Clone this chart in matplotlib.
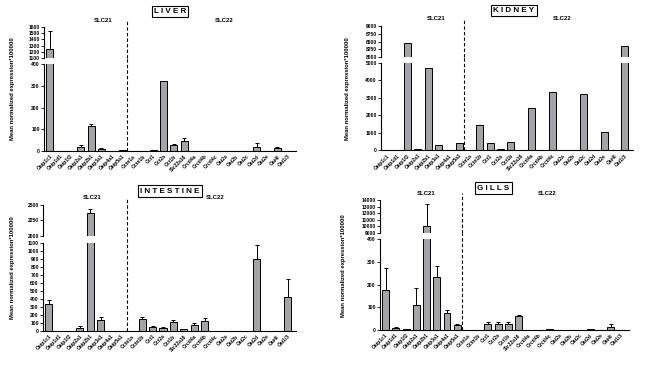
import numpy as np
import matplotlib
matplotlib.use("Agg")
import matplotlib.pyplot as plt

plt.rcParams['font.family'] = ['Liberation Sans', 'DejaVu Sans']
plt.rcParams['font.weight'] = 'bold'

# gene names (SLC21 then SLC22)
slc21 = ["Oatp1c1", "Oatp1d1", "Oatp1f2", "Oatp2a1", "Oatp2b1", "Oatp3a1", "Oatp4a1", "Oatp5a1"]
slc22 = ["Octn1a", "Octn1b", "Oct1", "Oct2a", "Oct1b", "Slc22a16", "Orctl4a", "Orctl4b",
         "Orctl4c", "Oat2a", "Oat2b", "Oat2c", "Oat2d", "Oat2e", "Oat4l", "Oat1/3"]
genes = slc21 + slc22

# mean normalized expression * 100000 and SEM
liver_mean = [1250, 0, 0, 20, 115, 10, 0, 3, 0, 0, 3, 320, 28, 46, 0, 0, 0, 0, 0, 0, 18, 0, 13, 0]
liver_err = [280, 0, 0, 6, 10, 6, 0, 0, 0, 0, 0, 2, 2, 15, 0, 0, 0, 0, 0, 0, 19, 0, 7, 0]

kidney_mean = [0, 0, 8450, 100, 4700, 280, 0, 400, 0, 1450, 400, 100, 450, 0, 2400, 0,
               3300, 0, 0, 3200, 0, 1050, 0, 8350]
kidney_err = [0] * 24

intestine_mean = [335, 0, 0, 40, 2370, 140, 5, 0, 0, 150, 50, 35, 112, 28, 75, 121,
                  0, 0, 0, 0, 900, 0, 0, 420]
intestine_err = [50, 0, 0, 18, 60, 35, 0, 0, 0, 25, 12, 10, 25, 0, 25, 41,
                 0, 0, 0, 0, 170, 0, 0, 225]

gills_mean = [175, 9, 3, 110, 10000, 234, 75, 22, 0, 2, 26, 25, 25, 60, 2, 2,
              4, 2, 2, 2, 4, 2, 12, 2]
gills_err = [98, 4, 0, 74, 3400, 48, 12, 4, 0, 0, 9, 9, 10, 6, 0, 0,
             2, 0, 0, 0, 2, 0, 14, 0]

W, H = 666, 391
fig = plt.figure(figsize=(W / 100, H / 100), dpi=100)


def px_rect(x0, x1, ytop, ybot):
    # pixel box -> figure fraction rect
    return [x0 / W, 1 - ybot / H, (x1 - x0) / W, (ybot - ytop) / H]


def panel(title, tbox, xs, low_box, up_box, means, errs, low_lim, low_ticks, up_lim, up_ticks,
          lab_pos, ylab_x):
    x = np.arange(len(genes))
    means = np.array(means, dtype=float)
    errs = np.array(errs, dtype=float)
    ax_lo = fig.add_axes(px_rect(xs[0], xs[1], low_box[0], low_box[1]))
    ax_up = fig.add_axes(px_rect(xs[0], xs[1], up_box[0], up_box[1]), sharex=ax_lo)
    for ax in (ax_lo, ax_up):
        ax.bar(x, means, width=0.68, color="#a4a4a8", edgecolor="black", linewidth=0.7, zorder=2)
        m = errs > 0
        ax.errorbar(x[m], means[m], yerr=[np.zeros(m.sum()), errs[m]], fmt="none",
                    ecolor="black", elinewidth=0.7, capsize=1.4, capthick=0.7, zorder=3)
        ax.spines["top"].set_visible(False)
        ax.spines["right"].set_visible(False)
        ax.spines["left"].set_linewidth(0.8)
        ax.spines["bottom"].set_linewidth(0.8)
        ax.tick_params(axis="y", length=2, width=0.6, labelsize=3.6, pad=1)
    ax_up.spines["bottom"].set_visible(False)
    ax_up.tick_params(axis="x", bottom=False, labelbottom=False)
    ax_lo.set_xlim(-0.55, len(genes) - 0.2)
    ax_lo.set_ylim(*low_lim)
    ax_lo.set_yticks(low_ticks)
    ax_up.set_ylim(*up_lim)
    ax_up.set_yticks(up_ticks)
    ax_lo.set_xticks(x)
    ax_lo.set_xticklabels(genes, rotation=45, ha="right", rotation_mode="anchor", fontsize=3.6)
    ax_lo.tick_params(axis="x", length=0, pad=2)

    # dashed separator between SLC21 and SLC22
    sep = len(slc21) - 0.5
    lo_h = low_box[1] - low_box[0]
    up_h = up_box[1] - up_box[0]
    gap = low_box[0] - up_box[1]
    ax_lo.axvline(sep, ymin=0, ymax=1 + gap / lo_h, color="black", lw=0.8, ls=(0, (3, 2)),
                  clip_on=False)
    ax_up.axvline(sep, ymin=0, ymax=1 + 7 / up_h, color="black", lw=0.8, ls=(0, (3, 2)),
                  clip_on=False)

    tr = ax_up.get_xaxis_transform()
    ax_up.text(lab_pos[0], 1 + 7 / up_h, "SLC21", transform=tr, ha="center", va="center",
               fontsize=4.3)
    ax_up.text(lab_pos[1], 1 + 7 / up_h, "SLC22", transform=tr, ha="center", va="center",
               fontsize=4.3)

    fig.text(tbox[0] / W, 1 - tbox[1] / H, title, ha="center", va="center", fontsize=5.8,
             bbox=dict(boxstyle="square,pad=0.25", fc="white", ec="black", lw=0.8))
    ymid = (up_box[0] + low_box[1]) / 2
    fig.text(ylab_x / W, 1 - ymid / H, "Mean normalized expression*100000", rotation=90,
             ha="center", va="center", fontsize=4.2)


panel("L I V E R", (170, 11.5), (44, 296), (64, 151), (27, 58), liver_mean, liver_err,
      (0, 400), [0, 100, 200, 300, 400], (1100, 1600), list(range(1100, 1601, 100)),
      (5.2, 16.9), 13)

panel("K I D N E Y", (514, 10.5), (381, 633), (62.7, 150.3), (26, 57.3), kidney_mean, kidney_err,
      (0, 5000), list(range(0, 5001, 1000)), (8000, 9000), list(range(8000, 9001, 250)),
      (4.8, 17.0), 348)

panel("I N T E S T I N E", (170, 191), (43, 296), (242.7, 331), (204.7, 235.7), intestine_mean,
      intestine_err, (0, 1100), list(range(0, 1101, 100)), (2000, 2500), [2000, 2250, 2500],
      (4.2, 16.0), 13)

panel("G I L L S", (493.5, 188), (380, 629), (239.3, 330), (200.3, 232.7), gills_mean, gills_err,
      (0, 400), [0, 100, 200, 300, 400], (9000, 14000), list(range(9000, 14001, 1000)),
      (4.0, 15.8), 344)

fig.savefig("out.png", dpi=100)
